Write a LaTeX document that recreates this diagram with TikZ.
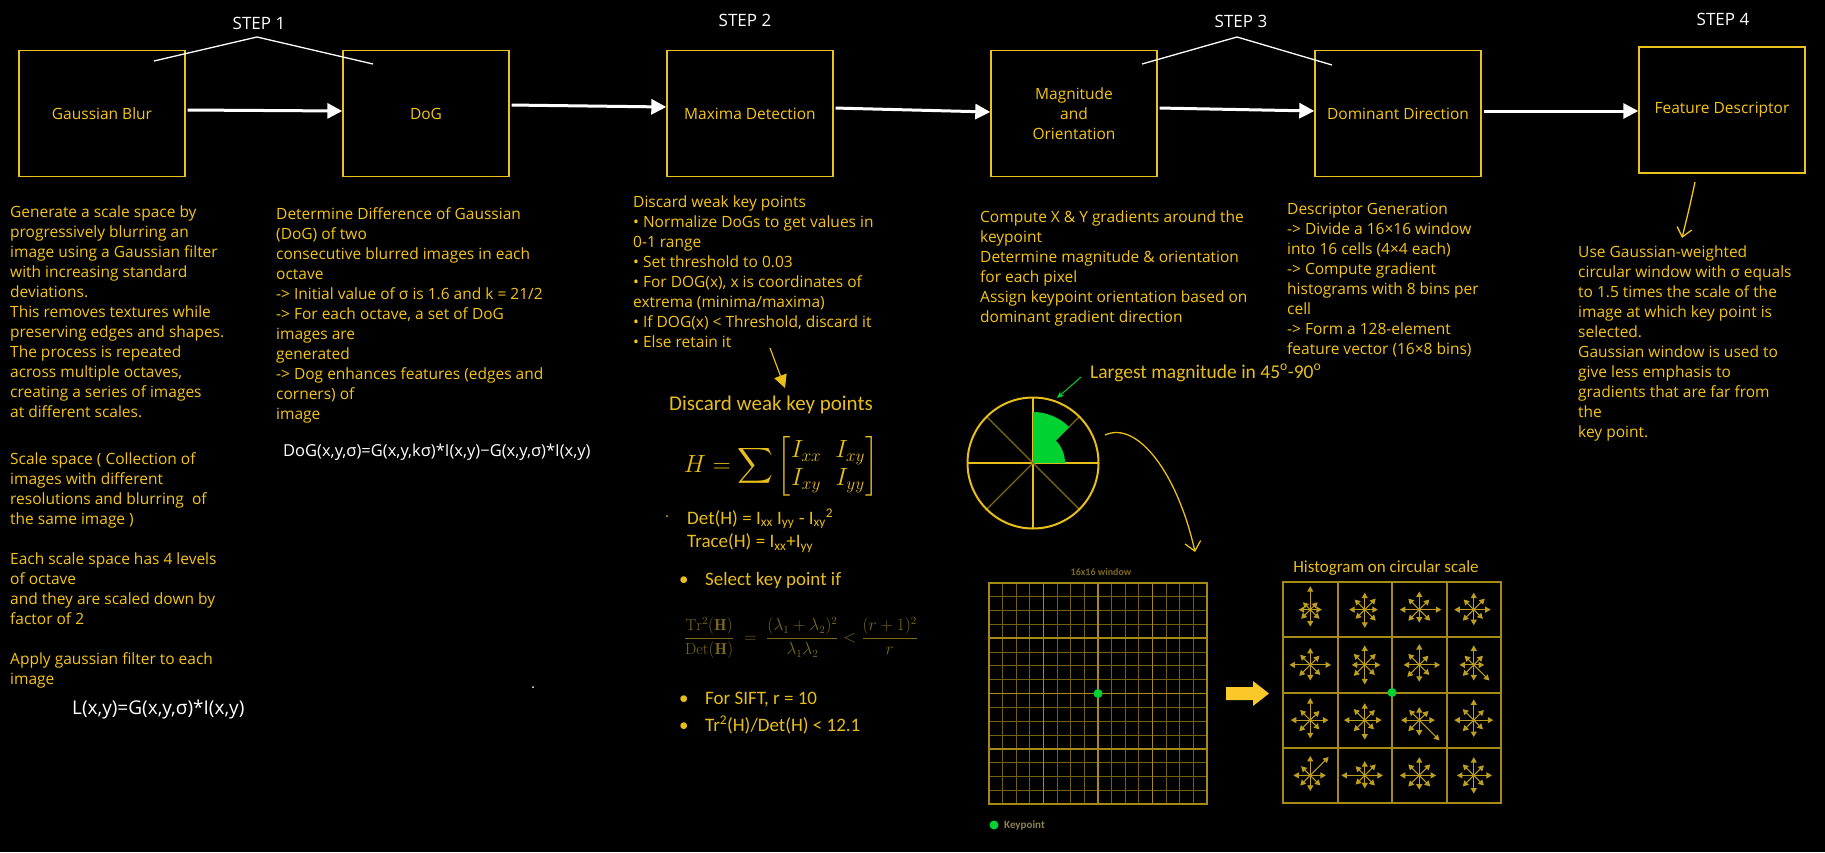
\documentclass[tikz,border=0pt]{standalone}
\usepackage{amsmath}
\usepackage{fontspec}
\newfontfamily\handfont{Open Sans}
\newfontfamily\calfont{Carlito}
\usetikzlibrary{arrows.meta,calc}
\definecolor{yel}{RGB}{245,197,24}
\definecolor{boxyel}{RGB}{235,195,30}
\definecolor{imgyel}{RGB}{232,190,25}
\definecolor{dimyel}{RGB}{125,105,28}
\definecolor{gridyel}{RGB}{165,138,22}
\definecolor{minoryel}{RGB}{115,96,16}
\definecolor{histyel}{RGB}{190,158,30}
\definecolor{brightyel}{RGB}{250,200,40}
\definecolor{kgreen}{RGB}{0,210,50}
\definecolor{legendgray}{RGB}{140,128,80}
\begin{document}
\begin{tikzpicture}[x=1pt,y=-1pt,
  hand/.style={font=\handfont\fontsize{15.5}{20}\selectfont},
  txt/.style={hand, text=yel, align=left, anchor=north west, inner sep=0pt},
  stepbox/.style={draw=boxyel, line width=1.4pt, minimum width=166pt, minimum height=126pt, inner sep=0pt, text=yel, align=center, hand},
  steplbl/.style={font=\handfont\fontsize{17}{20}\selectfont, text=white},
  flow/.style={draw=white, line width=3pt, -{Triangle[length=15pt,width=15pt]}, shorten <=2pt},
  caltxt/.style={font=\calfont\fontsize{19}{22}\selectfont, text=imgyel, inner sep=0pt},
  peak/.style={draw=white, line width=1.3pt},
  note/.style={draw=yel, line width=1.3pt}
]
\path[fill=black] (0,0) rectangle (1825,852);

% step boxes
\node[stepbox] (b1) at (102,113.5) {Gaussian Blur};
\node[stepbox] (b2) at (426,113.5) {DoG};
\node[stepbox] (b3) at (750,113.5) {Maxima Detection};
\node[stepbox] (b4) at (1074,113.5) {Magnitude\\and\\Orientation};
\node[stepbox] (b5) at (1398,113.5) {Dominant Direction};
\node[stepbox] (b6) at (1722,110) {Feature Descriptor};

\draw[flow] ([yshift=3.5pt]b1.east) -- ([yshift=2.5pt]b2.west);
\draw[flow] ([yshift=8.5pt]b2.east) -- ([yshift=6.5pt]b3.west);
\draw[flow] ([yshift=5.5pt]b3.east) -- ([yshift=1.5pt]b4.west);
\draw[flow] ([yshift=5.5pt]b4.east) -- ([yshift=2.5pt]b5.west);
\draw[flow] ([yshift=2.5pt]b5.east) -- ([yshift=-1pt]b6.west);

% step labels
\node[steplbl] (s1) at (259,23) {STEP 1};
\node[steplbl] (s2) at (745,20) {STEP 2};
\node[steplbl] (s3) at (1241,21) {STEP 3};
\node[steplbl] (s4) at (1723,19) {STEP 4};
\draw[peak] (154,61) -- (257,37) -- (373,64);
\draw[peak] (1142,64) -- (1237,37) -- (1332,65);

% column 1
\node[txt] (t1) at (10,203) {\strut Generate a scale space by\\progressively blurring an\\image using a Gaussian filter\\with increasing standard\\deviations.\\This removes textures while\\preserving edges and shapes.\\The process is repeated\\across multiple octaves,\\creating a series of images\\at different scales.};
\node[txt] (t1b) at (10,450) {\strut Scale space ( Collection of\\images with different\\resolutions and blurring\ \ of\\the same image )};
\node[txt] (t1c) at (10,550) {\strut Each scale space has 4 levels\\of octave\\and they are scaled down by\\factor of 2};
\node[txt] (t1d) at (10,650) {\strut Apply gaussian filter to each\\image};
\node[font=\handfont\fontsize{19}{22}\selectfont, text=white, anchor=west, inner sep=0pt] (lf) at (72,710) {L(x,y)=G(x,y,σ)*I(x,y)};

% column 2
\node[txt] (t2) at (276,205) {\strut Determine Difference of Gaussian\\(DoG) of two\\consecutive blurred images in each\\octave\\-> Initial value of σ is 1.6 and k = 21/2\\-> For each octave, a set of DoG\\images are\\generated\\-> Dog enhances features (edges and\\corners) of\\image};
\node[font=\handfont\fontsize{16.5}{20}\selectfont, text=white, anchor=west, inner sep=0pt] (dogf) at (283,452) {DoG(x,y,σ)=G(x,y,kσ)*I(x,y)−G(x,y,σ)*I(x,y)};
\fill[white] (533,687) circle (1);

% column 3
\node[txt] (t3) at (633,193) {\strut Discard weak key points\\• Normalize DoGs to get values in\\0-1 range\\• Set threshold to 0.03\\• For DOG(x), x is coordinates of\\extrema (minima/maxima)\\• If DOG(x) < Threshold, discard it\\• Else retain it};
\coordinate (a3s) at (770,348);
\coordinate (a3e) at (785,388);
\draw[draw=imgyel, line width=1.2pt, -{Triangle[length=13pt,width=13pt]}] (a3s) -- (a3e);
\node[caltxt, font=\calfont\fontsize{21}{24}\selectfont] (dwk) at (771,405) {Discard weak key points};
\node[text=imgyel, font=\fontsize{24}{28}\selectfont, inner sep=0pt] (hess) at (781,466) {\setlength{\arraycolsep}{7pt}$\displaystyle H=\sum\begin{bmatrix} I_{xx} & I_{xy}\\ I_{xy} & I_{yy}\end{bmatrix}$};
\fill[imgyel] (667,516) circle (1);
\node[caltxt, anchor=west] (det) at (687,519) {Det(H) = I\textsubscript{xx} I\textsubscript{yy} - I\textsubscript{xy}\textsuperscript{2}};
\node[caltxt, anchor=west] (tr) at (687,543) {Trace(H) = I\textsubscript{xx}+I\textsubscript{yy}};
\node[caltxt, anchor=west] (sel) at (679,580) {\makebox[26pt][l]{•}Select key point if};
\node[text=dimyel, font=\fontsize{16}{19}\selectfont, inner sep=0pt] (ratio) at (801,638) {$\displaystyle \frac{\mathrm{Tr}^2(\mathbf{H})}{\mathrm{Det}(\mathbf{H})}\;=\;\frac{(\lambda_1+\lambda_2)^2}{\lambda_1\lambda_2}<\frac{(r+1)^2}{r}$};
\node[caltxt, anchor=west] (sift) at (679,700) {\makebox[26pt][l]{•}For SIFT, r = 10};
\node[caltxt, anchor=west] (trr) at (679,725) {\makebox[26pt][l]{•}Tr\textsuperscript{2}(H)/Det(H) < 12.1};

% column 4
\node[txt] (t4) at (980,208) {\strut Compute X \& Y gradients around the\\keypoint\\Determine magnitude \& orientation\\for each pixel\\Assign keypoint orientation based on\\dominant gradient direction};
\node[txt] (t5) at (1287,200) {\strut Descriptor Generation\\-> Divide a 16×16 window\\into 16 cells (4×4 each)\\-> Compute gradient\\histograms with 8 bins per\\cell\\-> Form a 128-element\\feature vector (16×8 bins)};
\node[txt] (t6) at (1578,243) {\strut Use Gaussian-weighted\\circular window with σ equals\\to 1.5 times the scale of the\\image at which key point is\\selected.\\Gaussian window is used to\\give less emphasis to\\gradients that are far from\\the\\key point.};
\coordinate (a6s) at (1695,182);
\coordinate (a6e) at (1682,238);
\draw[note, -{Straight Barb[length=9pt,width=15pt]}] (a6s) .. controls (1690,205) .. (a6e);

% orientation circle
\coordinate (C) at (1033,463);
\foreach \a in {0,90,180,270} \draw[imgyel, line width=1.2pt] (C) -- ++(\a:65.5);
\foreach \a in {45,135,225,315} \draw[dimyel, line width=1.2pt] (C) -- ++(\a:65.5);
\fill[kgreen] (C) -- ++(0:32) arc[start angle=0, end angle=-45, radius=32] -- ($(C)+(-45:51)$) arc[start angle=-45, end angle=-90, radius=51] -- cycle;
\draw[imgyel, line width=2pt] (C) circle (65.5);
\node[caltxt, font=\calfont\fontsize{19.5}{22}\selectfont, anchor=west] (lm) at (1090,373) {Largest magnitude in 45\textsuperscript{o}-90\textsuperscript{o}};
\draw[kgreen, line width=1pt, -{Stealth[length=7pt,width=6pt]}] ([xshift=-9pt,yshift=-4pt]lm.west) -- (1057,398);
\coordinate (cs) at (1105,435);
\coordinate (ce) at (1195,552);
\draw[draw=imgyel, line width=1.3pt, -{Straight Barb[length=9pt,width=16pt]}] (cs) .. controls (1138,420) and (1178,475) .. (ce);

% 16x16 window grid
\foreach \i in {0,...,16} {
  \draw[minoryel, line width=0.9pt] ({989+\i*218/16},583) -- ({989+\i*218/16},804);
  \draw[minoryel, line width=0.9pt] (989,{583+\i*221/16}) -- (1207,{583+\i*221/16});
}
\foreach \i in {1,2,3} {
  \draw[gridyel, line width=1.8pt] ({989+\i*54.5},583) -- ({989+\i*54.5},804);
  \draw[gridyel, line width=1.8pt] (989,{583+\i*55.25}) -- (1207,{583+\i*55.25});
}
\draw[gridyel, line width=2.2pt] (989,583) rectangle (1207,804);
\fill[kgreen] (1098,693.5) circle (4.5);
\node[text=dimyel, font=\calfont\bfseries\fontsize{10}{12}\selectfont] (wlbl) at (1101,572) {16x16 window};
\fill[kgreen] (994,825) circle (4.5);
\node[text=legendgray, font=\calfont\bfseries\fontsize{11}{13}\selectfont, anchor=west, inner sep=0pt] (kp) at (1004,825) {Keypoint};

% block arrow
\fill[brightyel] (1226,687) -- (1253,687) -- (1253,681) -- (1269,693.5) -- (1253,706) -- (1253,700) -- (1226,700) -- cycle;

% histogram grid
\node[caltxt, font=\calfont\fontsize{17}{20}\selectfont] (hlbl) at (1386,568) {Histogram on circular scale};
\foreach \i in {1,2,3} {
  \draw[gridyel, line width=2pt] ({1283+\i*54.5},582) -- ({1283+\i*54.5},803);
  \draw[gridyel, line width=2pt] (1283,{582+\i*55.25}) -- (1501,{582+\i*55.25});
}
\draw[gridyel, line width=2.2pt] (1283,582) rectangle (1501,803);
\foreach \r/\c/\L in {
  1/1/{9,8,18,8,9,10,13,10}, 1/2/{10,12,13,11,12,10,14,12}, 1/3/{17,11,14,12,15,12,10,12}, 1/4/{13,12,13,11,15,12,12,10},
  2/1/{16,10,13,11,16,12,12,11}, 2/2/{12,12,15,12,10,12,15,11}, 2/3/{16,10,16,12,12,13,13,11}, 2/4/{8,10,15,10,11,12,12,17},
  3/1/{14,10,17,11,15,12,14,10}, 3/2/{13,11,13,12,16,12,15,10}, 3/3/{12,10,10,11,14,12,12,22}, 3/4/{15,11,16,12,15,12,13,10},
  4/1/{12,20,15,10,13,11,12,11}, 4/2/{14,12,11,10,18,10,10,11}, 4/3/{13,12,14,12,15,12,11,12}, 4/4/{14,11,14,12,13,12,14,11}} {
  \coordinate (hc) at ({1283+(\c-0.5)*54.5},{582+(\r-0.5)*55.25});
  \foreach \len [count=\k from 0] in \L {
    \draw[histyel, line width=1pt, -{Triangle[length=5.5pt,width=6pt]}] (hc) -- ++({-\k*45}:{1.3*\len});
  }
}
\fill[kgreen] (1392,692.5) circle (4.5);
\end{tikzpicture}
\end{document}
